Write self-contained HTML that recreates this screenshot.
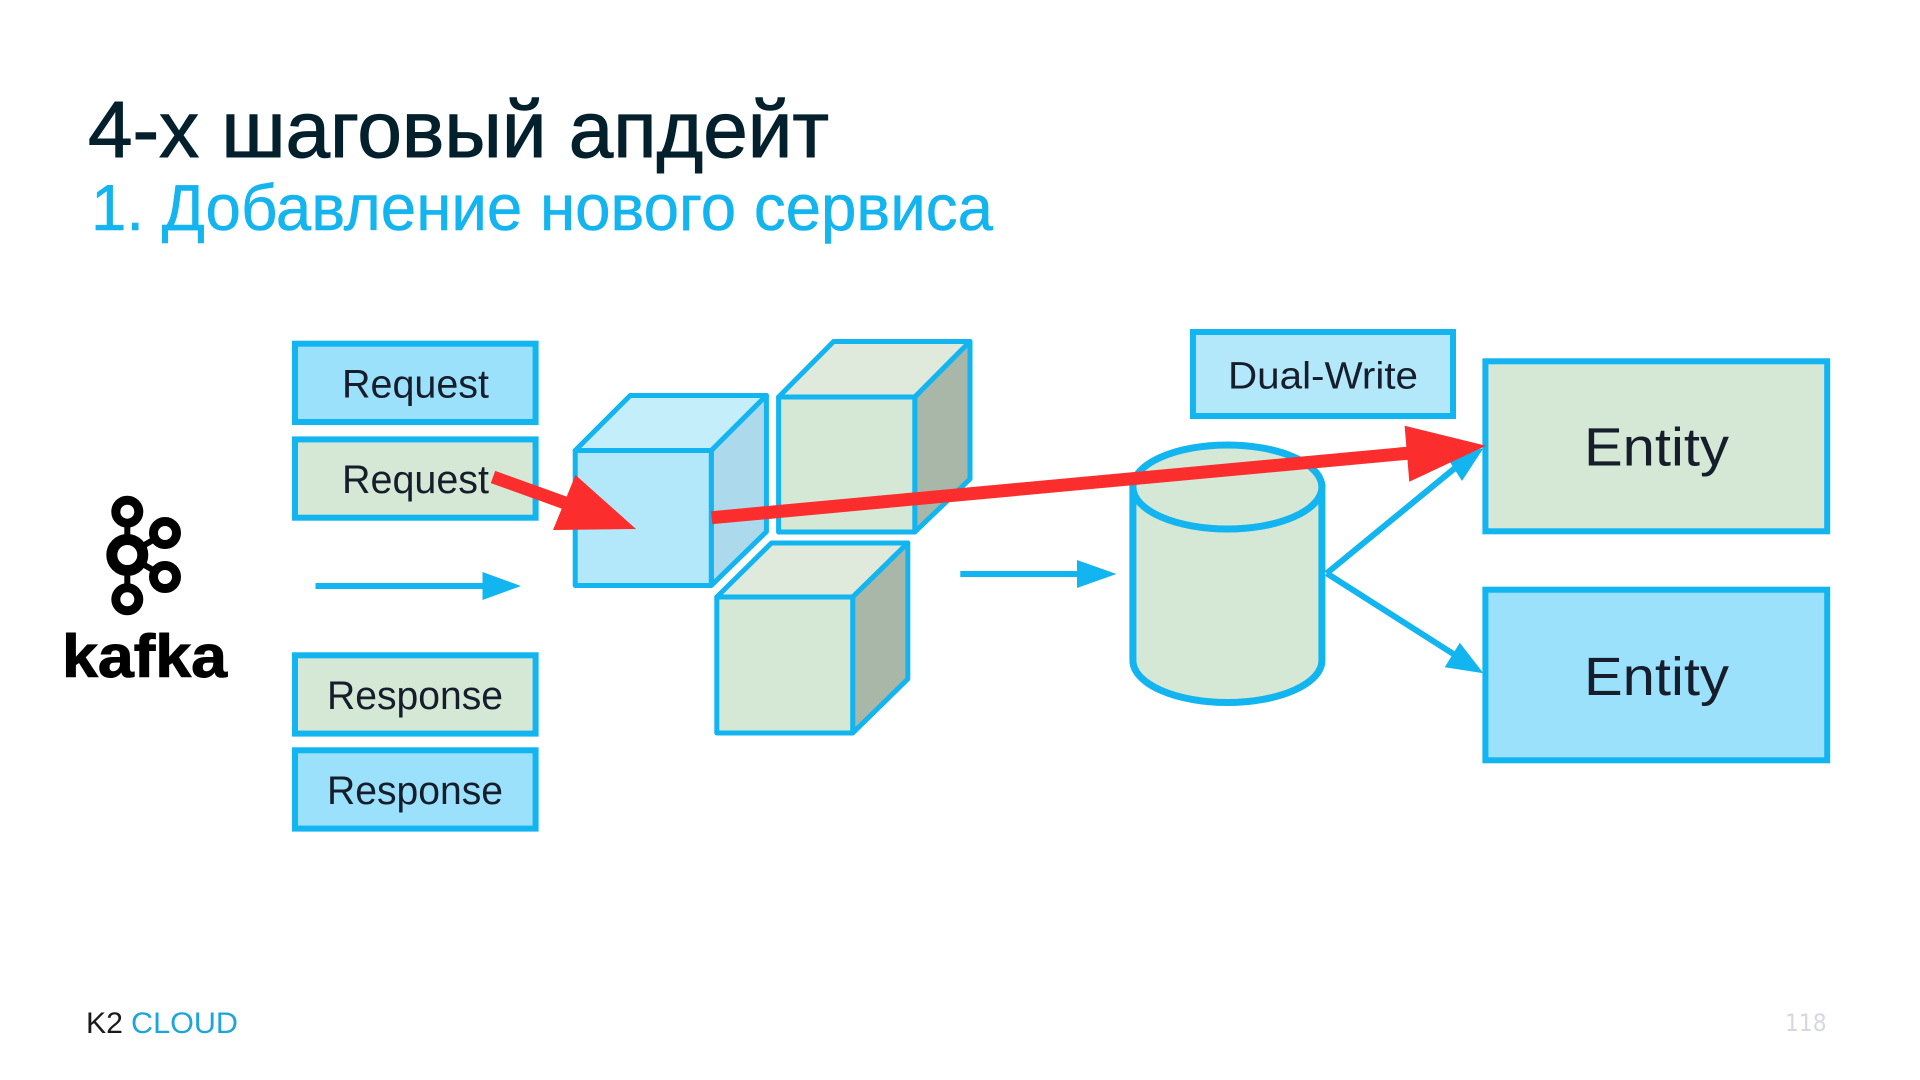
<!DOCTYPE html>
<html lang="ru">
<head>
<meta charset="utf-8">
<title>4-х шаговый апдейт</title>
<style>
html,body{margin:0;padding:0;background:#fff;}
body{width:1920px;height:1080px;overflow:hidden;}
svg{display:block;}
text{font-family:"Liberation Sans",sans-serif;}
.b{stroke:#12B5EF;stroke-width:6;}
.c{stroke:#12B5EF;stroke-width:5;stroke-linejoin:round;}
.l{font-size:40px;fill:#161E2C;}
.k{fill:none;stroke:#000;}
</style>
</head>
<body>
<svg width="1920" height="1080" viewBox="0 0 1920 1080" xmlns="http://www.w3.org/2000/svg">
<rect width="1920" height="1080" fill="#fff"/>

<!-- Titles -->
<text x="88" y="157" font-size="80" fill="#03202C" stroke="#03202C" stroke-width="1" textLength="741" lengthAdjust="spacingAndGlyphs">4-х шаговый апдейт</text>
<text x="91" y="230" font-size="65" fill="#14B4EE" stroke="#14B4EE" stroke-width="0.5" textLength="902" lengthAdjust="spacingAndGlyphs">1. Добавление нового сервиса</text>

<!-- Kafka logo -->
<g class="k">
<path d="M127.3 520V590" stroke-width="6"/>
<path d="M127.3 555L165 533M127.3 555L165 577" stroke-width="6"/>
<circle cx="127.3" cy="511.7" r="11.5" stroke-width="9" fill="#fff"/>
<circle cx="165" cy="533" r="11.5" stroke-width="9" fill="#fff"/>
<circle cx="165" cy="577" r="11.5" stroke-width="9" fill="#fff"/>
<circle cx="127.3" cy="599.3" r="11.5" stroke-width="9" fill="#fff"/>
<circle cx="127.3" cy="555" r="15.5" stroke-width="11" fill="#fff"/>
</g>
<text x="62" y="677" font-size="60" font-weight="bold" fill="#000" stroke="#000" stroke-width="1" textLength="165" lengthAdjust="spacingAndGlyphs">kafka</text>

<!-- Request / Response boxes -->
<rect class="b" x="295" y="343.7" width="240.6" height="78.3" fill="#9CE1FC"/>
<rect class="b" x="295" y="439.4" width="240.6" height="78.3" fill="#D5E7D5"/>
<rect class="b" x="295" y="655.3" width="240.6" height="78.3" fill="#D5E7D5"/>
<rect class="b" x="295" y="750.3" width="240.6" height="78.3" fill="#9CE1FC"/>
<text class="l" x="342" y="397.5" textLength="147" lengthAdjust="spacingAndGlyphs">Request</text>
<text class="l" x="342" y="493.2" textLength="147" lengthAdjust="spacingAndGlyphs">Request</text>
<text class="l" x="327" y="709" textLength="176" lengthAdjust="spacingAndGlyphs">Response</text>
<text class="l" x="327" y="803.8" textLength="176" lengthAdjust="spacingAndGlyphs">Response</text>

<!-- Blue horizontal arrows -->
<path d="M315.5 586H486" stroke="#12B5EF" stroke-width="6" fill="none"/>
<polygon points="482.5,572 521,586 482.5,600" fill="#12B5EF"/>
<path d="M960.3 574H1080" stroke="#12B5EF" stroke-width="6" fill="none"/>
<polygon points="1077,560 1116.5,574 1077,588" fill="#12B5EF"/>

<!-- Cube 1 (blue) -->
<polygon class="c" points="575.2,450.5 630.2,395.5 766.4,395.5 711.3,450.5" fill="#C5EEFB"/>
<polygon class="c" points="711.3,450.5 766.4,395.5 766.4,531.7 711.3,585.5" fill="#ADD9EC"/>
<rect class="c" x="575.2" y="450.5" width="136.1" height="135" fill="#B3E8FB"/>

<!-- Cube 2 (green) -->
<polygon class="c" points="778.6,397 833.6,341.5 970,341.5 914.8,397" fill="#DFEADC"/>
<polygon class="c" points="914.8,397 970,341.5 970,479 914.8,532" fill="#A9B7A9"/>
<rect class="c" x="778.6" y="397" width="136.2" height="135" fill="#D5E7D5"/>

<!-- Cube 3 (green) -->
<polygon class="c" points="716.8,597 771.5,543 907.8,543 852.7,597" fill="#DFEADC"/>
<polygon class="c" points="852.7,597 907.8,543 907.8,679 852.7,733" fill="#A9B7A9"/>
<rect class="c" x="716.8" y="597" width="135.9" height="136" fill="#D5E7D5"/>

<!-- Cylinder -->
<path d="M1132.9 487V660.5A94.5 42 0 0 0 1321.9 660.5V487Z" fill="#D5E7D5" stroke="#12B5EF" stroke-width="7"/>
<ellipse cx="1227.4" cy="487" rx="94.5" ry="42" fill="#D5E7D5" stroke="#12B5EF" stroke-width="7"/>

<!-- Dual-Write -->
<rect class="b" x="1193" y="332" width="260" height="84" fill="#B3E8FB"/>
<text x="1228" y="388.3" font-size="38" fill="#161E2C" textLength="190" lengthAdjust="spacingAndGlyphs">Dual-Write</text>

<!-- Entities -->
<rect class="b" x="1485.4" y="361.3" width="341.8" height="170" fill="#D5E7D5"/>
<rect class="b" x="1485.4" y="589.7" width="341.8" height="170.6" fill="#9CE1FC"/>
<text x="1584" y="465.7" font-size="54" fill="#161E2C" textLength="145" lengthAdjust="spacingAndGlyphs">Entity</text>
<text x="1584" y="695" font-size="54" fill="#161E2C" textLength="145" lengthAdjust="spacingAndGlyphs">Entity</text>

<!-- Blue diagonal arrows -->
<path d="M1326.7 573.3L1455 468" stroke="#12B5EF" stroke-width="6" fill="none"/>
<polygon points="1483.4,448.3 1462,481 1444.7,454" fill="#12B5EF"/>
<path d="M1326.7 573.3L1455 655" stroke="#12B5EF" stroke-width="6" fill="none"/>
<polygon points="1483.4,673.3 1459.8,642.7 1444.7,667.3" fill="#12B5EF"/>

<!-- Red arrows -->
<path d="M493 477L568 504" stroke="#FB2D2D" stroke-width="13" fill="none"/>
<polygon points="636,529 553,530 575.5,475" fill="#FB2D2D"/>
<path d="M711.7 517.7L1410 453" stroke="#FB2D2D" stroke-width="13" fill="none"/>
<polygon points="1486,445.7 1404.6,425.7 1409.3,481.7" fill="#FB2D2D"/>

<!-- Footer -->
<text x="86" y="1033" font-size="30" fill="#1A1A1A" textLength="37" lengthAdjust="spacingAndGlyphs">K2</text>
<text x="131" y="1033" font-size="30" fill="#1BA5DB" textLength="107" lengthAdjust="spacingAndGlyphs">CLOUD</text>
<text x="1785" y="1031" font-size="24" fill="#D5D8DE" style="font-family:'DejaVu Sans',sans-serif" textLength="41.7" lengthAdjust="spacingAndGlyphs">118</text>
</svg>
</body>
</html>
